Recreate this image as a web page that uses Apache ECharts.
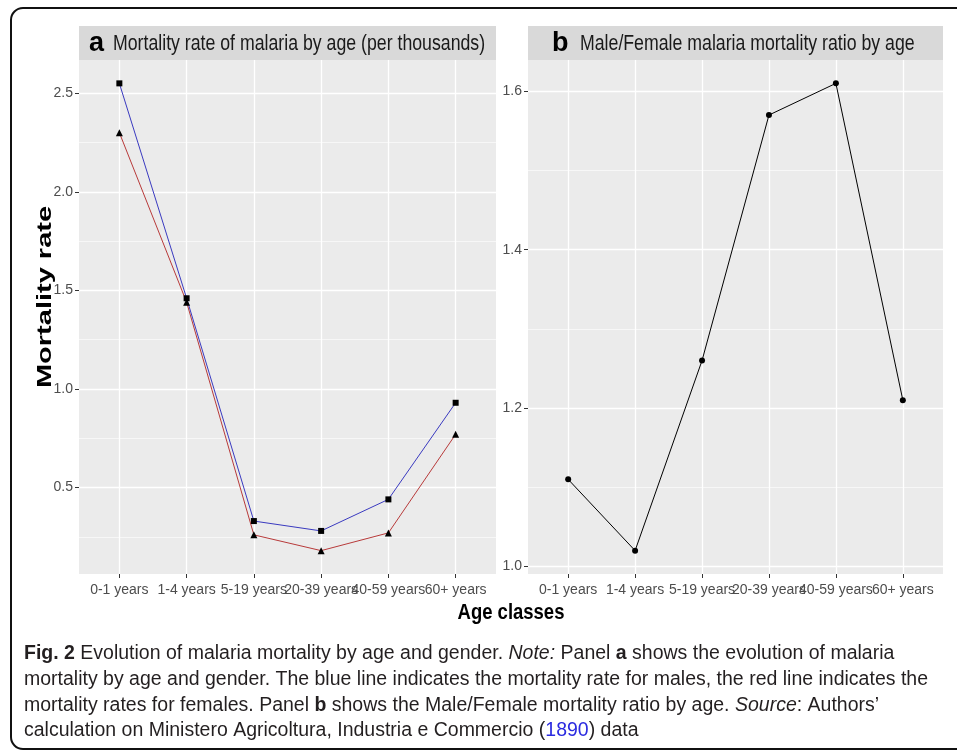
<!DOCTYPE html>
<html><head><meta charset="utf-8">
<script src="https://cdn.jsdelivr.net/npm/echarts@6/dist/echarts.min.js"></script>
<style>html,body{margin:0;padding:0;background:#fff}#c{width:957px;height:750px}</style>
</head><body><div id="c"></div>
<script>
const categories = ['0-1 years','1-4 years','5-19 years','20-39 years','40-59 years','60+ years'];
const maleRate   = [2.55, 1.46, 0.33, 0.28, 0.44, 0.93];
const femaleRate = [2.30, 1.44, 0.26, 0.18, 0.27, 0.77];
const mfRatio    = [1.11, 1.02, 1.26, 1.57, 1.61, 1.21];
const panelATag = 'a';
const panelBTag = 'b';
const panelATitle = 'Mortality rate of malaria by age (per thousands)';
const panelBTitle = 'Male/Female malaria mortality ratio by age';
const yNameA = 'Mortality rate';
const xName = 'Age classes';
const captionLines = [
  '{b|Fig. 2} Evolution of malaria mortality by age and gender. {i|Note:} Panel {b|a} shows the evolution of malaria',
  'mortality by age and gender. The blue line indicates the mortality rate for males, the red line indicates the',
  'mortality rates for females. Panel {b|b} shows the Male/Female mortality ratio by age. {i|Source}: Authors\u2019',
  'calculation on Ministero Agricoltura, Industria e Commercio ({l|1890}) data'
];

const SANS = '"Liberation Sans",Arial,sans-serif';

function expand(vals){ const mn=Math.min(...vals), mx=Math.max(...vals); const d=(mx-mn)*0.05; return [mn-d, mx+d]; }
const extA = expand(maleRate.concat(femaleRate));
const extB = expand(mfRatio);

const PA = {left:79, right:496}, PB = {left:528, right:943};
const TOP = 60, BOTTOM = 574;
function inset(p){ return (p.right-p.left)*0.6/6.2; }

function bgGrid(p){ return {left:p.left, top:TOP, width:p.right-p.left, height:BOTTOM-TOP, show:true, backgroundColor:'#EBEBEB', borderWidth:0, containLabel:false}; }
function fgGrid(p){ const s=inset(p); return {left:p.left+s, top:TOP, width:p.right-p.left-2*s, height:BOTTOM-TOP, show:false, containLabel:false}; }

const labelStyle = {color:'#4D4D4D', fontSize:14, fontFamily:SANS};

function catAxis(gi){
  return {gridIndex:gi, type:'category', data:categories, boundaryGap:false,
    axisLine:{show:false}, axisTick:{show:true, length:4, lineStyle:{color:'#333', width:1}},
    axisLabel:Object.assign({interval:0, margin:9}, labelStyle),
    splitLine:{show:true, lineStyle:{color:'#fff', width:1.3}}};
}
function hiddenX(gi){ return {gridIndex:gi, type:'value', min:0, max:1, show:false}; }
function valAxis(gi, ext, split){
  return {gridIndex:gi, type:'value', min:ext[0], max:ext[1], splitNumber:split,
    axisLine:{show:false}, axisTick:{show:true, length:4, lineStyle:{color:'#333', width:1}},
    axisLabel:Object.assign({showMinLabel:false, showMaxLabel:false, margin:6, formatter:v=>v.toFixed(1)}, labelStyle),
    splitLine:{show:true, showMinLine:false, showMaxLine:false, lineStyle:{color:'#fff', width:1.3}},
    minorTick:{show:false, splitNumber:2},
    minorSplitLine:{show:true, lineStyle:{color:'#fff', width:0.6}}};
}
function hiddenY(gi, ext){ return {gridIndex:gi, type:'value', min:ext[0], max:ext[1], show:false, splitLine:{show:false}}; }

function stripText(tag, title, tagX, titleX){
  return [
    {type:'text', x:tagX, y:44, silent:true, style:{text:tag, align:'left', verticalAlign:'middle', fontSize:27, fontWeight:'bold', fill:'#000', fontFamily:SANS}},
    {type:'text', x:titleX, y:44, scaleX:0.805, silent:true, style:{text:title, align:'left', verticalAlign:'middle', fontSize:22, fill:'#1A1A1A', fontFamily:SANS}}
  ];
}

const chart = echarts.init(document.getElementById('c'), null, {renderer:'canvas'});
chart.setOption({
  animation:false,
  backgroundColor:'#fff',
  grid:[bgGrid(PA), fgGrid(PA), bgGrid(PB), fgGrid(PB)],
  xAxis:[hiddenX(0), catAxis(1), hiddenX(2), catAxis(3)],
  yAxis:[valAxis(0, extA, 5), hiddenY(1, extA), valAxis(2, extB, 3), hiddenY(3, extB)],
  series:[
    {type:'line', name:'Female', xAxisIndex:1, yAxisIndex:1, data:femaleRate, symbol:'triangle', symbolSize:7, showAllSymbol:true,
      itemStyle:{color:'#000'}, lineStyle:{color:'#B83A3A', width:1}},
    {type:'line', name:'Male', xAxisIndex:1, yAxisIndex:1, data:maleRate, symbol:'rect', symbolSize:6, showAllSymbol:true,
      itemStyle:{color:'#000'}, lineStyle:{color:'#3A3AC0', width:1}},
    {type:'line', name:'Ratio', xAxisIndex:3, yAxisIndex:3, data:mfRatio, symbol:'circle', symbolSize:6, showAllSymbol:true,
      itemStyle:{color:'#000'}, lineStyle:{color:'#000', width:1}}
  ],
  graphic:[
    {type:'rect', shape:{x:11, y:8, width:990, height:741, r:12}, style:{fill:'none', stroke:'#111', lineWidth:2}, silent:true, z:100},
    {type:'rect', shape:{x:PA.left, y:26, width:PA.right-PA.left, height:TOP-26}, style:{fill:'#D9D9D9'}, silent:true},
    {type:'rect', shape:{x:PB.left, y:26, width:PB.right-PB.left, height:TOP-26}, style:{fill:'#D9D9D9'}, silent:true},
    ...stripText(panelATag, panelATitle, 89, 113),
    ...stripText(panelBTag, panelBTitle, 552, 580),
    {type:'text', x:45, y:297, rotation:Math.PI/2, scaleY:0.7, silent:true, style:{text:yNameA, align:'center', verticalAlign:'middle', fontSize:29, fontWeight:'bold', fill:'#000', fontFamily:SANS}},
    {type:'text', x:511, y:613, scaleX:0.84, silent:true, style:{text:xName, align:'center', verticalAlign:'middle', fontSize:22, fontWeight:'bold', fill:'#000', fontFamily:SANS}},
    {type:'text', x:24, y:641, scaleX:0.975, silent:true, style:{text:captionLines.join('\n'), align:'left', verticalAlign:'top', fontSize:20, lineHeight:25.7, fill:'#231F20', fontFamily:SANS,
      rich:{b:{fontWeight:'bold', fontSize:20, fill:'#231F20', fontFamily:SANS, lineHeight:25.7}, i:{fontStyle:'italic', fontSize:20, fill:'#231F20', fontFamily:SANS, lineHeight:25.7}, l:{fill:'#2B2BE0', fontSize:20, fontFamily:SANS, lineHeight:25.7}}}}
  ]
});
</script></body></html>
